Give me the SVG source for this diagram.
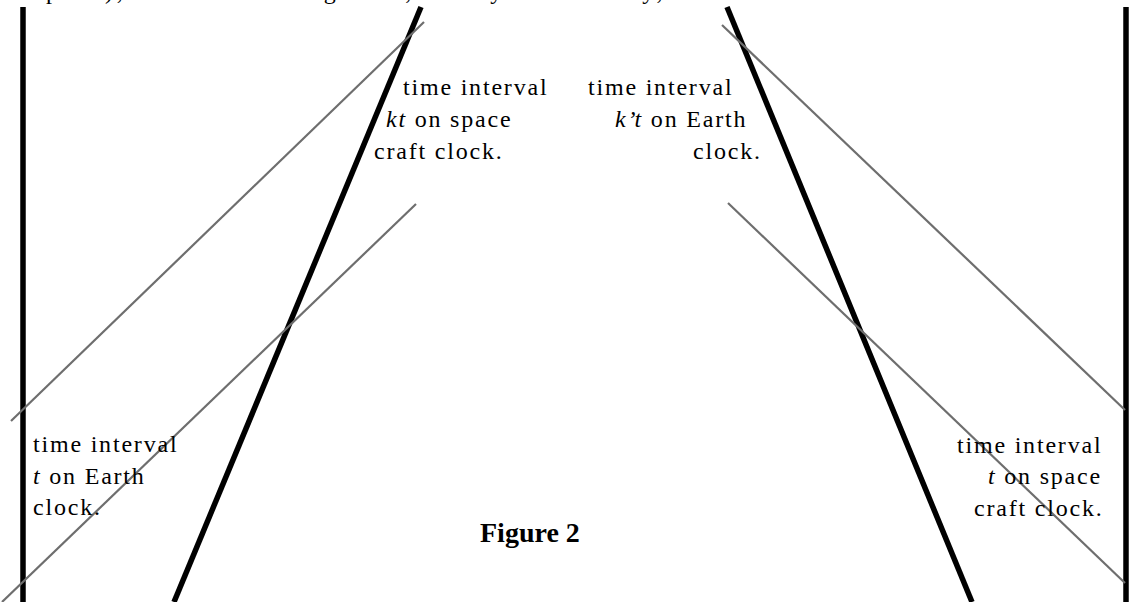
<svg xmlns="http://www.w3.org/2000/svg" width="1130" height="602" viewBox="0 0 1130 602">
<style>
.world{stroke:#000;stroke-width:5.5;fill:none;stroke-linecap:butt}
.sig{stroke:#6e6e6e;stroke-width:2.2;fill:none}
.lbl{font-family:"Liberation Serif","Times New Roman",serif;font-size:24px;letter-spacing:1.8px;fill:#000}
.it{font-style:italic}
.fig{font-family:"Liberation Serif","Times New Roman",serif;font-size:28px;font-weight:bold;fill:#000}
</style>
<rect width="1130" height="602" fill="#fff"/>
<text class="lbl" x="33" y="-1" textLength="690">space), and so on – together, nicely and evenly, . . .</text>
<g id="connectors">
<line class="world" x1="23" y1="7" x2="23" y2="602"/>
<line class="world" x1="1126" y1="7" x2="1126" y2="602"/>
<line class="world" x1="421" y1="7" x2="174" y2="602"/>
<line class="world" x1="727" y1="7" x2="972" y2="602"/>
<line class="sig" x1="11" y1="421" x2="424" y2="22"/>
<line class="sig" x1="2" y1="602" x2="416" y2="204"/>
<line class="sig" x1="722" y1="25" x2="1125" y2="410"/>
<line class="sig" x1="728" y1="203" x2="1125" y2="583"/>
</g>
<g id="label-kt">
<text class="lbl" x="403" y="95">time interval</text>
<text class="lbl" x="386" y="127"><tspan class="it">kt</tspan> on space</text>
<text class="lbl" x="374" y="159">craft clock.</text>
</g>
<g id="label-k2t">
<text class="lbl" x="588" y="95">time interval</text>
<text class="lbl" x="615" y="127"><tspan class="it">k’t</tspan> on Earth</text>
<text class="lbl" x="693" y="159">clock.</text>
</g>
<g id="label-t-earth">
<text class="lbl" x="33" y="452">time interval</text>
<text class="lbl" x="33" y="484"><tspan class="it">t</tspan> on Earth</text>
<text class="lbl" x="33" y="515">clock.</text>
</g>
<g id="label-t-craft">
<text class="lbl" x="957" y="453">time interval</text>
<text class="lbl" x="988" y="484"><tspan class="it">t</tspan> on space</text>
<text class="lbl" x="974" y="516">craft clock.</text>
</g>
<g id="caption">
<text class="fig" x="480" y="542">Figure 2</text>
</g>
</svg>
